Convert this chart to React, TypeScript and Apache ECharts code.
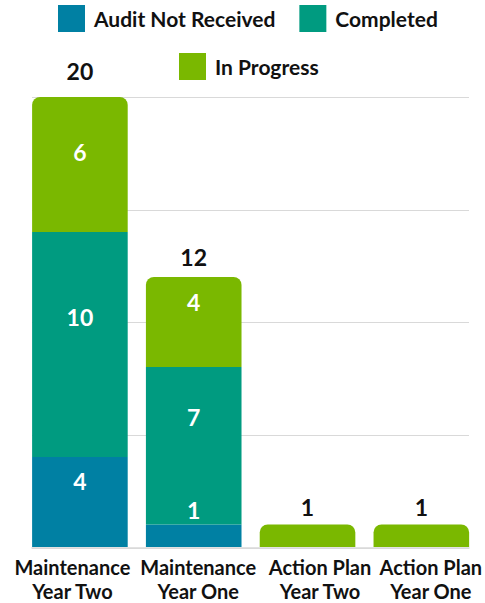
import React, { useEffect, useRef } from "react";
import * as echarts from "echarts";

const categories = ["Maintenance\nYear Two", "Maintenance\nYear One", "Action Plan\nYear Two", "Action Plan\nYear One"];
const auditNotReceived = [4, 1, 0, 0];
const completed = [10, 7, 0, 0];
const inProgress = [6, 4, 1, 1];
const totals = categories.map((_, i) => auditNotReceived[i] + completed[i] + inProgress[i]);

// style-only tweaks (label placement)
const categoryLabelPadding = [[0, 15, 0, 0], [0, 0, 0, 9], [0, 0, 0, 25], [0, 0, 0, 19]];
const auditLabelOffset = [-21, 0, 0, 0];
const completedLabelOffset = [-28, -29, 0, 0];
const progressLabelOffset = [-13, -20, 0, 0];
const totalLabelDistance = [15, 9, 6, 6];

const FONT = "Lato";

export default function App() {
  const ref = useRef<HTMLDivElement>(null);
  useEffect(() => {
    if (!ref.current) return;
    const chart = echarts.init(ref.current, null, { renderer: "svg" });
    const segLabel = {
      show: true,
      position: "inside",
      color: "#fff",
      fontFamily: FONT,
      fontWeight: "bold",
      fontSize: 23,
      formatter: (p: any) => (p.value ? String(p.value) : ""),
    };
    const legendText = { fontFamily: FONT, fontWeight: "bold", fontSize: 21, color: "#111", padding: [0, 0, 0, 4] };
    chart.setOption({
      animation: false,
      legend: [
        {
          data: ["Audit Not Received", "Completed"],
          left: 58,
          top: 5,
          padding: 0,
          itemWidth: 27,
          itemHeight: 27,
          itemGap: 24,
          icon: "rect",
          selectedMode: false,
          textStyle: legendText,
        },
        {
          data: ["In Progress"],
          left: 179,
          top: 53,
          padding: 0,
          itemWidth: 27,
          itemHeight: 27,
          icon: "rect",
          selectedMode: false,
          textStyle: legendText,
        },
      ],
      grid: [
        { left: 23, right: 6, top: 97, bottom: 55 },
        { left: 32, right: 16, top: 97, bottom: 55 },
      ],
      xAxis: [
        {
          type: "category",
          gridIndex: 0,
          data: categories.map((c, i) => ({ value: c, textStyle: { padding: categoryLabelPadding[i] } })),
          axisLine: { show: false },
          axisTick: { show: false },
          axisLabel: {
            fontFamily: FONT,
            fontWeight: "bold",
            fontSize: 20,
            color: "#111",
            lineHeight: 24,
            margin: 8,
            interval: 0,
          },
        },
        {
          type: "value",
          gridIndex: 1,
          min: 0,
          max: 1,
          axisLine: { show: true, lineStyle: { color: "#d9d9d9", width: 1.5 } },
          axisTick: { show: false },
          axisLabel: { show: false },
          splitLine: { show: false },
        },
      ],
      yAxis: [
        {
          type: "value",
          gridIndex: 0,
          min: 0,
          max: 20,
          interval: 5,
          axisLine: { show: false },
          axisTick: { show: false },
          axisLabel: { show: false },
          splitLine: { show: false },
        },
        {
          type: "value",
          gridIndex: 1,
          min: 0,
          max: 20,
          interval: 5,
          axisLine: { show: false },
          axisTick: { show: false },
          axisLabel: { show: false },
          splitLine: { show: true, lineStyle: { color: "#d9d9d9", width: 1 } },
        },
      ],
      series: [
        {
          name: "Audit Not Received",
          type: "bar",
          stack: "total",
          barCategoryGap: "16%",
          itemStyle: { color: "#0080A3" },
          label: segLabel,
          data: auditNotReceived.map((v, i) =>
            i === 1
              ? { value: v, label: { position: "top", distance: 3 } }
              : { value: v, label: { offset: [0, auditLabelOffset[i]] } }
          ),
        },
        {
          name: "Completed",
          type: "bar",
          stack: "total",
          itemStyle: { color: "#009B80" },
          label: segLabel,
          data: completed.map((v, i) => ({ value: v, label: { offset: [0, completedLabelOffset[i]] } })),
        },
        {
          name: "In Progress",
          type: "bar",
          stack: "total",
          itemStyle: { color: "#7AB800", borderRadius: [8, 8, 0, 0] },
          label: segLabel,
          data: inProgress.map((v, i) =>
            i >= 2
              ? { value: v, label: { show: false } }
              : { value: v, label: { offset: [0, progressLabelOffset[i]] } }
          ),
        },
        {
          name: "Total",
          type: "bar",
          stack: "total",
          itemStyle: { color: "transparent" },
          label: {
            show: true,
            position: "top",
            color: "#111",
            fontFamily: FONT,
            fontWeight: "bold",
            fontSize: 23,
            formatter: (p: any) => String(totals[p.dataIndex]),
          },
          data: totals.map((_, i) => ({ value: 0, label: { distance: totalLabelDistance[i] } })),
        },
      ],
    });
    return () => chart.dispose();
  }, []);
  return <div ref={ref} style={{ position: "absolute", left: 0, top: 0, width: 485, height: 603 }} />;
}
